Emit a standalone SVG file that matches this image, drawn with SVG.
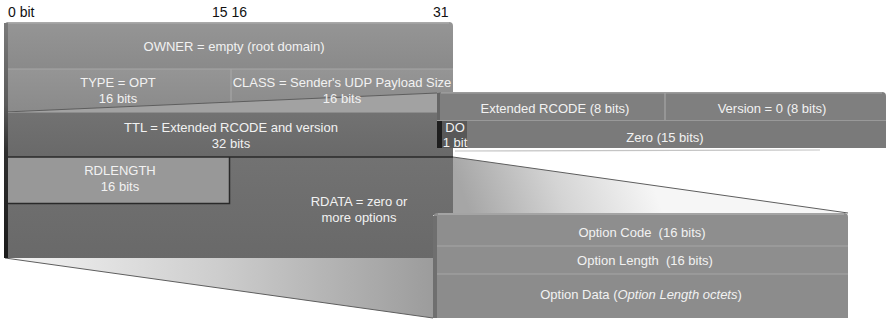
<svg xmlns="http://www.w3.org/2000/svg" width="887" height="320" viewBox="0 0 887 320">
  <defs>
    <style>
      .hdr { font-family: "Liberation Sans", Arial, sans-serif; font-size: 14px; fill: #111; }
      .lbl { font-family: "Liberation Sans", Arial, sans-serif; font-size: 13px; fill: #f2f2f2; text-anchor: middle; }
      .sep { stroke: #a6a6a6; stroke-width: 1.2; fill: none; }
      .edge { stroke: #2a2a2a; stroke-width: 1.5; fill: none; }
      .cone-line { stroke: #5e5e5e; stroke-width: 1; fill: none; }
    </style>
    <linearGradient id="rowLight" x1="0" y1="0" x2="0" y2="1">
      <stop offset="0" stop-color="#959595"/>
      <stop offset="1" stop-color="#8a8a8a"/>
    </linearGradient>
    <linearGradient id="rowDark" x1="0" y1="0" x2="0" y2="1">
      <stop offset="0" stop-color="#727272"/>
      <stop offset="1" stop-color="#696969"/>
    </linearGradient>
    <linearGradient id="leftBevel" x1="0" y1="0" x2="0" y2="1">
      <stop offset="0" stop-color="#7a7a7a"/>
      <stop offset="0.35" stop-color="#5a5a5a"/>
      <stop offset="0.55" stop-color="#2e2e2e"/>
      <stop offset="1" stop-color="#1a1a1a"/>
    </linearGradient>
    <linearGradient id="coneUpper" gradientUnits="userSpaceOnUse" x1="470" y1="213" x2="640" y2="150">
      <stop offset="0" stop-color="#a6a6a6"/>
      <stop offset="0.5" stop-color="#d4d4d4"/>
      <stop offset="1" stop-color="#f6f6f6"/>
    </linearGradient>
    <linearGradient id="coneLower" gradientUnits="userSpaceOnUse" x1="5" y1="0" x2="433" y2="0">
      <stop offset="0" stop-color="#f4f4f4"/>
      <stop offset="0.5" stop-color="#cdcdcd"/>
      <stop offset="1" stop-color="#9c9c9c"/>
    </linearGradient>
  </defs>

  <!-- bit position ruler -->
  <g id="ruler">
    <text class="hdr" x="8" y="17">0 bit</text>
    <text class="hdr" x="212" y="17">15 16</text>
    <text class="hdr" x="433" y="17">31</text>
  </g>

  <!-- expansion cones linking a field to its breakdown -->
  <g id="connectors">
    <!-- RDATA opened into an option -->
    <polygon points="453,157 848,213 453,213" fill="url(#coneUpper)"/>
    <polygon points="5,258 433,258 433,318" fill="url(#coneLower)"/>
    <line class="cone-line" x1="453" y1="157" x2="848" y2="213"/>
    <line class="cone-line" x1="5" y1="258" x2="433" y2="318"/>
    <!-- shadow under the TTL breakdown -->
    <line x1="455" y1="151" x2="820" y2="150" stroke="#c4c4c4" stroke-width="1.2"/>
  </g>

  <!-- OPT pseudo-record header -->
  <g id="owner">
    <path d="M5,25 Q5,22 8,22 L449,22 Q453,22 453,26 L453,69 L5,69 Z" fill="url(#rowLight)"/>
    <line x1="8" y1="22.8" x2="449" y2="22.8" stroke="#b0b0b0" stroke-width="1.2"/>
    <text class="lbl" x="234" y="51">OWNER = empty (root domain)</text>
  </g>

  <g id="type">
    <rect x="5" y="69" width="226" height="43" fill="url(#rowLight)"/>
    <text class="lbl" x="118" y="87">TYPE = OPT</text>
    <text class="lbl" x="118" y="103">16 bits</text>
  </g>

  <g id="class">
    <rect x="231" y="69" width="222" height="43" fill="url(#rowLight)"/>
    <line class="sep" x1="231" y1="69" x2="231" y2="112"/>
  </g>

  <line class="sep" x1="5" y1="69" x2="453" y2="69"/>

  <!-- upper face of the TTL cone -->
  <g id="ttl-cone">
    <polygon points="5,112 437,93 453,93 453,112" fill="#a2a2a2"/>
    <line class="cone-line" x1="5" y1="112" x2="437" y2="93"/>
  </g>

  <g id="class-label">
    <text class="lbl" x="342" y="87">CLASS = Sender's UDP Payload Size</text>
    <text class="lbl" x="342" y="103">16 bits</text>
  </g>

  <g id="ttl">
    <rect x="5" y="112" width="448" height="45" fill="url(#rowDark)"/>
    <line x1="5" y1="112.5" x2="437" y2="112.5" stroke="#8c8c8c" stroke-width="1"/>
    <text class="lbl" x="231" y="132">TTL = Extended RCODE and version</text>
    <text class="lbl" x="231" y="148">32 bits</text>
  </g>

  <g id="rdata">
    <polygon points="229,157 453,157 453,215 433,215 433,258 5,258 5,203 229,203" fill="url(#rowDark)"/>
    <text class="lbl" x="359" y="206">RDATA = zero or</text>
    <text class="lbl" x="359" y="222">more options</text>
  </g>

  <g id="rdlength">
    <rect x="5" y="157" width="224" height="46" fill="#989898"/>
    <polyline class="edge" points="5,203.5 229.5,203.5 229.5,157"/>
    <text class="lbl" x="120" y="175">RDLENGTH</text>
    <text class="lbl" x="120" y="191">16 bits</text>
  </g>

  <line class="edge" x1="5" y1="157" x2="453" y2="157"/>

  <!-- left bevel of the record -->
  <rect x="4" y="23" width="4" height="235" fill="url(#leftBevel)"/>

  <!-- TTL breakdown -->
  <g id="ext-rcode">
    <path d="M437,96 Q437,92 441,92 L661,92 L665,92 L665,120 L437,120 Z" fill="#7f7f7f"/>
    <line x1="441" y1="92.8" x2="665" y2="92.8" stroke="#a4a4a4" stroke-width="1.2"/>
    <text class="lbl" x="555" y="113">Extended RCODE (8 bits)</text>
  </g>

  <g id="version">
    <path d="M665,92 L882,92 Q886,92 886,96 L886,120 L665,120 Z" fill="#7f7f7f"/>
    <line x1="665" y1="92.8" x2="882" y2="92.8" stroke="#a4a4a4" stroke-width="1.2"/>
    <line class="sep" x1="665" y1="93" x2="665" y2="120" stroke="#939393"/>
    <text class="lbl" x="772" y="113">Version = 0 (8 bits)</text>
  </g>

  <g id="zero">
    <rect x="467" y="120" width="419" height="28" fill="#7a7a7a"/>
    <text class="lbl" x="665" y="142">Zero (15 bits)</text>
  </g>

  <line x1="437" y1="120.5" x2="886" y2="120.5" stroke="#999" stroke-width="1.2"/>
  <rect x="437" y="93" width="3" height="27" fill="#666"/>

  <g id="do">
    <rect x="437" y="121" width="30" height="27" fill="#585858"/>
    <rect x="437" y="121" width="5" height="27" fill="#1e1e1e"/>
    <text class="lbl" x="455" y="132">DO</text>
    <text class="lbl" x="455" y="147">1 bit</text>
  </g>

  <!-- a single option inside RDATA -->
  <g id="option-code">
    <path d="M433,218 Q433,213 438,213 L844,213 Q848,213 848,217 L848,246 L433,246 Z" fill="#8e8e8e"/>
    <line x1="438" y1="214" x2="844" y2="214" stroke="#ababab" stroke-width="1.5"/>
    <text class="lbl" x="642" y="237" xml:space="preserve">Option Code  (16 bits)</text>
  </g>

  <g id="option-length">
    <rect x="433" y="246" width="415" height="28" fill="#8e8e8e"/>
    <text class="lbl" x="645" y="265" xml:space="preserve">Option Length  (16 bits)</text>
  </g>

  <g id="option-data">
    <rect x="433" y="274" width="415" height="44" fill="#8c8c8c"/>
    <text class="lbl" x="641" y="299">Option Data (<tspan font-style="italic">Option Length octets</tspan>)</text>
  </g>

  <line class="sep" x1="433" y1="246" x2="848" y2="246"/>
  <line class="sep" x1="433" y1="274" x2="848" y2="274"/>
  <rect x="433" y="216" width="4" height="102" fill="#6f6f6f"/>
</svg>
